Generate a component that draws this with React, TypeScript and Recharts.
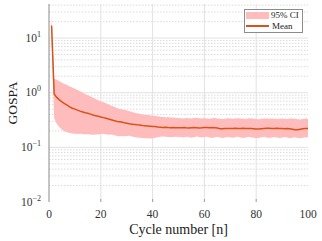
import React from 'react';
import { ComposedChart, Area, Line, XAxis, YAxis, ReferenceLine } from 'recharts';

const cycles = [
  1, 2, 3, 4, 5, 6, 7, 8, 9, 10, 11, 12, 13, 14, 15, 16, 17, 18, 19, 20,
  21, 22, 23, 24, 25, 26, 27, 28, 29, 30, 31, 32, 33, 34, 35, 36, 37, 38, 39, 40,
  41, 42, 43, 44, 45, 46, 47, 48, 49, 50, 51, 52, 53, 54, 55, 56, 57, 58, 59, 60,
  61, 62, 63, 64, 65, 66, 67, 68, 69, 70, 71, 72, 73, 74, 75, 76, 77, 78, 79, 80,
  81, 82, 83, 84, 85, 86, 87, 88, 89, 90, 91, 92, 93, 94, 95, 96, 97, 98, 99, 100,
];

const meanGospa = [
  17, 0.95, 0.82, 0.74, 0.68, 0.63, 0.59, 0.55, 0.52, 0.5,
  0.48, 0.46, 0.445, 0.43, 0.42, 0.405, 0.39, 0.38, 0.37, 0.36,
  0.35, 0.34, 0.33, 0.32, 0.31, 0.3, 0.295, 0.29, 0.282, 0.277,
  0.27, 0.266, 0.262, 0.258, 0.256, 0.252, 0.249, 0.246, 0.243, 0.24,
  0.24, 0.236, 0.234, 0.232, 0.233, 0.23, 0.229, 0.231, 0.229, 0.228,
  0.229, 0.231, 0.228, 0.226, 0.228, 0.23, 0.229, 0.227, 0.228, 0.23,
  0.231, 0.229, 0.23, 0.228, 0.226, 0.22, 0.219, 0.221, 0.222, 0.221,
  0.222, 0.223, 0.222, 0.221, 0.223, 0.222, 0.221, 0.222, 0.22, 0.217,
  0.216, 0.219, 0.222, 0.224, 0.223, 0.221, 0.222, 0.223, 0.221, 0.222,
  0.22, 0.221, 0.219, 0.215, 0.211, 0.21, 0.215, 0.219, 0.222, 0.221,
];

const ciUpper = [
  27, 1.8, 1.72, 1.62, 1.52, 1.45, 1.38, 1.3, 1.24, 1.18,
  1.12, 1.06, 1.0, 0.95, 0.9, 0.86, 0.81, 0.77, 0.73, 0.7,
  0.67, 0.64, 0.61, 0.58, 0.56, 0.53, 0.51, 0.5, 0.49, 0.48,
  0.46, 0.45, 0.43, 0.42, 0.41, 0.4, 0.395, 0.39, 0.385, 0.38,
  0.375, 0.37, 0.365, 0.36, 0.355, 0.355, 0.35, 0.35, 0.345, 0.345,
  0.342, 0.338, 0.345, 0.34, 0.336, 0.344, 0.348, 0.341, 0.337, 0.343,
  0.339, 0.335, 0.34, 0.346, 0.338, 0.333, 0.329, 0.335, 0.34, 0.337,
  0.332, 0.336, 0.341, 0.338, 0.334, 0.33, 0.336, 0.34, 0.335, 0.331,
  0.328, 0.334, 0.339, 0.336, 0.332, 0.337, 0.333, 0.329, 0.335, 0.338,
  0.334, 0.33, 0.336, 0.339, 0.333, 0.327, 0.324, 0.331, 0.336, 0.333,
];

const ciLower = [
  8, 0.34, 0.27, 0.235, 0.21, 0.198, 0.188, 0.183, 0.18, 0.178,
  0.176, 0.177, 0.175, 0.173, 0.174, 0.172, 0.17, 0.171, 0.172, 0.176,
  0.178, 0.174, 0.17, 0.172, 0.168, 0.163, 0.16, 0.162, 0.159, 0.161,
  0.163, 0.158, 0.155, 0.152, 0.15, 0.148, 0.146, 0.147, 0.145, 0.146,
  0.15, 0.153, 0.156, 0.158, 0.157, 0.155, 0.153, 0.155, 0.156, 0.154,
  0.155, 0.152, 0.157, 0.154, 0.15, 0.153, 0.158, 0.155, 0.151, 0.154,
  0.156, 0.152, 0.149, 0.153, 0.157, 0.151, 0.148, 0.152, 0.155, 0.153,
  0.15, 0.154, 0.157, 0.152, 0.149, 0.152, 0.156, 0.153, 0.15, 0.147,
  0.149, 0.153, 0.156, 0.152, 0.149, 0.151, 0.155, 0.152, 0.148, 0.151,
  0.154, 0.151, 0.147, 0.15, 0.153, 0.149, 0.146, 0.15, 0.153, 0.151,
];

const xTicks = [0, 20, 40, 60, 80, 100];
const xInnerTicks = [20, 40, 60, 80];
const yTicks = [0.01, 0.1, 1, 10];
const yExponents = ['\u22122', '\u22121', '0', '1'];
const yMajorGrid = [0.1, 1, 10];
const yMinorGrid = [
  0.02, 0.03, 0.04, 0.05, 0.06, 0.07, 0.08, 0.09,
  0.2, 0.3, 0.4, 0.5, 0.6, 0.7, 0.8, 0.9,
  2, 3, 4, 5, 6, 7, 8, 9,
  20, 30, 40,
];
const yAllTicks = [...yTicks, ...yMinorGrid];

const legendLabels = ['95% CI', 'Mean'];

const data = cycles.map((n, i) => ({
  n,
  mean: meanGospa[i],
  ci: [ciLower[i], ciUpper[i]],
}));

const FONT = '"Liberation Serif", "DejaVu Serif", serif';
const BAND = '#ffbcbc';
const MEAN = '#d95319';
const AXIS = '#8a8a8a';

const XTick = (p: any) => {
  const { x, y, payload } = p;
  return (
    <g>
      {payload.value !== 0 && payload.value !== 100 && (
        <line x1={x} x2={x} y1={y} y2={y - 3} stroke={AXIS} strokeWidth={0.8} />
      )}
      <text x={x} y={y + 16} textAnchor="middle" fontFamily={FONT} fontSize={11.5} fill="#333">
        {payload.value}
      </text>
    </g>
  );
};

const YTick = (p: any) => {
  const { x, y, payload } = p;
  const idx = yTicks.indexOf(payload.value);
  return (
    <text x={x - 8} y={y + 3.5} textAnchor="end" fontFamily={FONT} fontSize={11.5} fill="#333">
      10
      <tspan dy={-5} fontSize={8}>{yExponents[idx]}</tspan>
    </text>
  );
};

const TopTick = (p: any) => {
  const { x, y } = p;
  return <line x1={x} x2={x} y1={y} y2={y + 3} stroke={AXIS} strokeWidth={0.8} />;
};

const RightTick = (p: any) => {
  const { x, y, payload } = p;
  const len = yTicks.includes(payload.value) ? 3.5 : 2;
  return <line x1={x} x2={x - len} y1={y} y2={y} stroke={AXIS} strokeWidth={0.8} />;
};

const LegendBox = () => (
  <div
    style={{
      position: 'absolute',
      left: 244,
      top: 9,
      width: 59,
      height: 24,
      border: '1px solid #8c8c8c',
      background: '#fff',
      boxSizing: 'border-box',
      fontFamily: FONT,
      fontSize: 9,
      color: '#222',
    }}
  >
    <div style={{ position: 'absolute', left: 1, top: 1.5, width: 23, height: 7.5, background: BAND }} />
    <div style={{ position: 'absolute', left: 26, top: -0.5, lineHeight: '10px', whiteSpace: 'nowrap' }}>{legendLabels[0]}</div>
    <div style={{ position: 'absolute', left: 1, top: 15.2, width: 23, height: 1.5, background: MEAN }} />
    <div style={{ position: 'absolute', left: 27, top: 11, lineHeight: '10px', whiteSpace: 'nowrap' }}>{legendLabels[1]}</div>
  </div>
);

export default function App() {
  return (
    <div style={{ position: 'absolute', left: 0, top: 0, width: 322, height: 241, background: '#fff' }}>
      <ComposedChart width={322} height={241} data={data} margin={{ top: 4, right: 14, bottom: 0, left: 0 }}>
        <XAxis
          dataKey="n"
          type="number"
          domain={[0, 100]}
          ticks={xTicks}
          allowDataOverflow
          height={39}
          axisLine={false}
          tickLine={false}
          tickSize={0}
          tickMargin={0}
          tick={<XTick />}
          interval={0}
          label={{
            content: (props: any) => {
              const vb = props.viewBox;
              return (
                <text x={vb.x + vb.width / 2} y={vb.y + 32} textAnchor="middle" fontFamily={FONT} fontSize={14} fill="#222">
                  Cycle number [n]
                </text>
              );
            },
          }}
        />
        <XAxis
          xAxisId="top"
          orientation="top"
          dataKey="n"
          type="number"
          domain={[0, 100]}
          ticks={xInnerTicks}
          allowDataOverflow
          height={0}
          axisLine={{ stroke: '#a8a8a8', strokeWidth: 0.8 }}
          tickLine={false}
          tickSize={0}
          tickMargin={0}
          tick={<TopTick />}
          interval={0}
        />
        <YAxis
          scale="log"
          type="number"
          domain={[0.01, 42]}
          ticks={yTicks}
          allowDataOverflow
          width={49}
          axisLine={{ stroke: AXIS, strokeWidth: 1 }}
          tickLine={false}
          tickSize={0}
          tickMargin={0}
          tick={<YTick />}
          interval={0}
          label={{
            content: (props: any) => {
              const vb = props.viewBox;
              const cy = vb.y + vb.height / 2;
              return (
                <text
                  x={12}
                  y={cy}
                  transform={`rotate(-90 12 ${cy})`}
                  textAnchor="middle"
                  dominantBaseline="central"
                  fontFamily={FONT}
                  fontSize={13.5}
                  fill="#222"
                >
                  GOSPA
                </text>
              );
            },
          }}
        />
        <YAxis
          yAxisId="r"
          orientation="right"
          scale="log"
          type="number"
          domain={[0.01, 42]}
          ticks={yAllTicks}
          allowDataOverflow
          width={0}
          axisLine={false}
          tickLine={false}
          tickSize={0}
          tickMargin={0}
          tick={<RightTick />}
          interval={0}
        />
        {yMinorGrid.map((v) => (
          <ReferenceLine key={'m' + v} y={v} stroke="#d2d2d2" strokeWidth={0.8} strokeDasharray="1.5 1.5" zIndex={-50} />
        ))}
        {yMajorGrid.map((v) => (
          <ReferenceLine key={'M' + v} y={v} stroke="#e2e2e2" strokeWidth={1} zIndex={-50} />
        ))}
        {xInnerTicks.map((v) => (
          <ReferenceLine key={'X' + v} x={v} stroke="#e2e2e2" strokeWidth={1} zIndex={-50} />
        ))}
        <Area
          type="linear"
          dataKey="ci"
          stroke="none"
          fill={BAND}
          fillOpacity={1}
          isAnimationActive={false}
          dot={false}
          activeDot={false}
        />
        <Line
          type="linear"
          dataKey="mean"
          stroke={MEAN}
          strokeWidth={1.5}
          dot={false}
          activeDot={false}
          isAnimationActive={false}
        />
      </ComposedChart>
      <LegendBox />
    </div>
  );
}
